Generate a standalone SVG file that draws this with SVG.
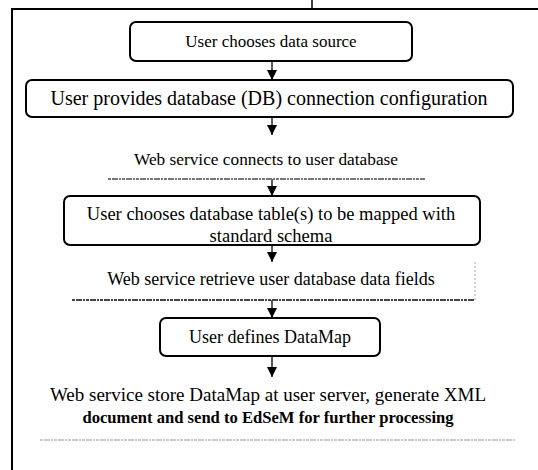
<svg xmlns="http://www.w3.org/2000/svg" width="538" height="470" viewBox="0 0 538 470">
<style>
.box{fill:#fff;stroke:#000;stroke-width:2}
.t{font-family:"Liberation Serif","Times New Roman",serif;font-size:18px;fill:#000;text-anchor:middle}
.c{stroke:#000;stroke-width:1.3;fill:none}
.scan{stroke:#777;stroke-width:2;stroke-dasharray:3 1 6 1 2 1}
</style>
<defs>
<marker id="ah" viewBox="0 0 10 10" refX="10" refY="5" markerWidth="10" markerHeight="10" markerUnits="userSpaceOnUse" orient="auto">
<path d="M0,0 L10,5 L0,10 z" fill="#000"/>
</marker>
</defs>
<rect width="538" height="470" fill="#fff"/>
<g id="frame">
<path d="M12,470 V9 H538" fill="none" stroke="#000" stroke-width="2"/>
<line x1="312" y1="0" x2="312" y2="9" stroke="#000" stroke-width="1.5"/>
</g>
<g id="connectors">
<line class="c" x1="272" y1="61" x2="272" y2="80" marker-end="url(#ah)"/>
<line class="c" x1="272" y1="117" x2="272" y2="135" marker-end="url(#ah)"/>
<line class="c" x1="272" y1="179" x2="272" y2="196" marker-end="url(#ah)"/>
<line class="c" x1="272" y1="245" x2="272" y2="262" marker-end="url(#ah)"/>
<line class="c" x1="272" y1="300" x2="272" y2="318" marker-end="url(#ah)"/>
<line class="c" x1="272" y1="356" x2="272" y2="377" marker-end="url(#ah)"/>
</g>
<g id="n1">
<rect class="box" x="130" y="22" width="282" height="39" rx="6"/>
<text class="t" x="271" y="47" style="font-size:17px">User chooses data source</text>
</g>
<g id="n2">
<rect class="box" x="26" y="80" width="487" height="37" rx="6"/>
<text class="t" x="269" y="105" style="font-size:20px">User provides database (DB) connection configuration</text>
</g>
<g id="n3">
<text class="t" x="266" y="165" style="font-size:17.3px">Web service connects to user database</text>
<line class="scan" x1="108" y1="179" x2="425" y2="179"/>
</g>
<g id="n4">
<rect class="box" x="64" y="196" width="416" height="49" rx="6"/>
<text class="t" x="271" y="220" style="font-size:18.5px">User chooses database table(s) to be mapped with</text>
<text class="t" x="271" y="242" style="font-size:18.5px">standard schema</text>
</g>
<g id="n5">
<text class="t" x="271" y="285">Web service retrieve user database data fields</text>
<line x1="475" y1="262" x2="475" y2="300" stroke="#aaa" stroke-width="1" stroke-dasharray="2 2"/>
<line class="scan" x1="72" y1="300" x2="475" y2="300" style="stroke:#444"/>
</g>
<g id="n6">
<rect class="box" x="160" y="318" width="220" height="38" rx="6"/>
<text class="t" x="270" y="343">User defines DataMap</text>
</g>
<g id="n7">
<text class="t" x="268" y="401" style="font-size:19px">Web service store DataMap at user server, generate XML</text>
<text class="t" x="268" y="423" style="font-size:16.6px;font-weight:bold">document and send to EdSeM for further processing</text>
<line class="scan" x1="40" y1="440" x2="515" y2="440" style="stroke:#bbb;stroke-width:1.5"/>
</g>
</svg>
